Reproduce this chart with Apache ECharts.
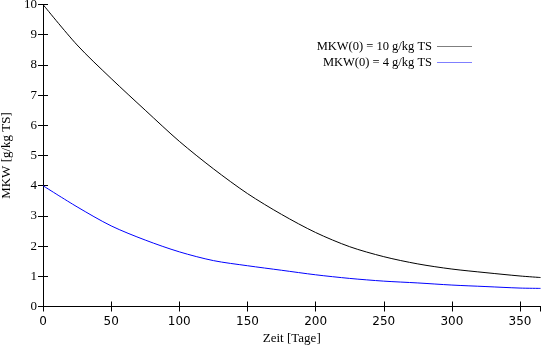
<!DOCTYPE html>
<html><head><meta charset="utf-8">
<script src="https://cdn.jsdelivr.net/npm/echarts@6/dist/echarts.min.js"></script>
<style>html,body{margin:0;padding:0;background:#fff}#c{width:542px;height:345px}</style>
</head><body><div id="c"></div>
<script>
const seriesNames = ['MKW(0) = 10 g/kg TS', 'MKW(0) = 4 g/kg TS'];
const days = [0,25,50,75,100,125,150,175,200,225,250,275,300,325,350,365];
const values10 = [10,8.66,7.55,6.5,5.47,4.56,3.74,3.05,2.45,1.98,1.65,1.41,1.24,1.12,1.01,0.96];
const values4 = [4,3.3,2.67,2.2,1.81,1.52,1.35,1.2,1.05,0.93,0.84,0.78,0.71,0.66,0.61,0.6];
const xTitle = 'Zeit [Tage]';
const yTitle = 'MKW [g/kg TS]';

const serif = 'Liberation Serif';
const chart = echarts.init(document.getElementById('c'), null, {renderer:'canvas'});
const axLine = {show:true, lineStyle:{color:'#000', width:1}};
const tick = {show:true, inside:true, length:5, lineStyle:{color:'#000', width:1}};
const pairs = vals => days.map((d,i)=>[d, vals[i]]);
chart.setOption({
  animation:false,
  grid:{left:43, right:1.5, top:4.5, bottom:38.5, containLabel:false, outerBoundsMode:'none'},
  legend:{
    orient:'vertical', right:65, top:35, align:'right',
    itemWidth:35, itemHeight:14, itemGap:3,
    textStyle:{fontFamily:serif, fontSize:12.5, color:'#000', padding:[0,0,0,0]},
    data:seriesNames.map(n=>({name:n, icon:'path://M0,0 L10,0 L10,0.1 L0,0.1 Z'}))
  },
  xAxis:[{
    type:'value', min:0, max:365, interval:50,
    axisLine:axLine, axisTick:tick, splitLine:{show:false},
    axisLabel:{color:'#000', fontFamily:'DejaVu Sans', fontSize:12, margin:9, showMaxLabel:false},
    name:xTitle, nameLocation:'middle', nameGap:24,
    nameTextStyle:{fontFamily:serif, fontSize:13, color:'#000'}
  },{
    type:'value', position:'top', min:0, max:365, interval:50,
    axisLine:axLine, axisTick:tick, splitLine:{show:false}, axisLabel:{show:false}
  }],
  yAxis:[{
    type:'value', min:0, max:10, interval:1,
    axisLine:axLine, axisTick:tick, splitLine:{show:false},
    axisLabel:{color:'#000', fontFamily:serif, fontSize:13, margin:6},
    name:yTitle, nameLocation:'middle', nameGap:27, nameRotate:90,
    nameTextStyle:{fontFamily:serif, fontSize:13, color:'#000'}
  },{
    type:'value', position:'right', min:0, max:10, interval:1,
    axisLine:axLine, axisTick:tick, splitLine:{show:false}, axisLabel:{show:false}
  }],
  series:[
    {name:seriesNames[0], type:'line', data:pairs(values10), smooth:0.3, symbol:'none', lineStyle:{color:'#000', width:1}, itemStyle:{color:'#000'}},
    {name:seriesNames[1], type:'line', data:pairs(values4), smooth:0.3, symbol:'none', lineStyle:{color:'#0000ff', width:1}, itemStyle:{color:'#0000ff'}}
  ]
});
</script></body></html>
